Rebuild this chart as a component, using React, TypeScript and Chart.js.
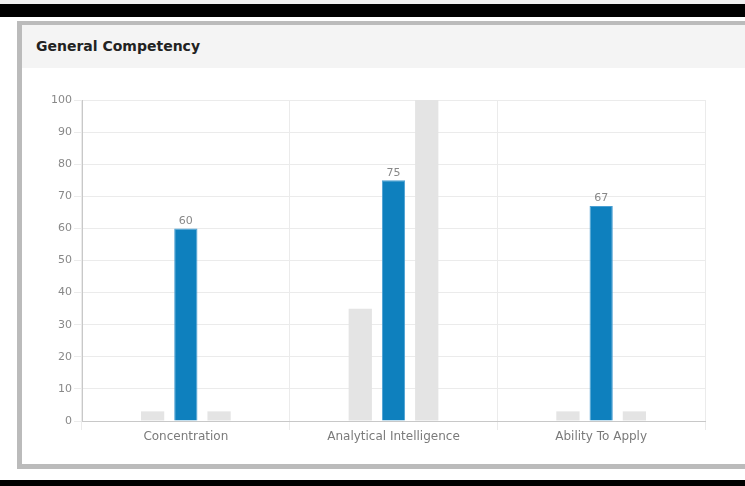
import React, { useEffect, useRef } from "react";
import { Chart, registerables } from "chart.js";

Chart.register(...registerables);

const categories = ["Concentration", "Analytical Intelligence", "Ability To Apply"];
const lowerBand = [3, 35, 3];
const scores = [60, 75, 67];
const upperBand = [3, 100, 3];
const yTicks = [0, 10, 20, 30, 40, 50, 60, 70, 80, 90, 100];

const FONT = "'DejaVu Sans', sans-serif";

const scoreLabels = {
  id: "scoreLabels",
  afterDatasetsDraw(chart: any) {
    const { ctx } = chart;
    const meta = chart.getDatasetMeta(1);
    ctx.save();
    ctx.font = `11px ${FONT}`;
    ctx.fillStyle = "#888888";
    ctx.textAlign = "center";
    ctx.textBaseline = "bottom";
    meta.data.forEach((bar: any, i: number) => {
      ctx.fillText(String(scores[i]), bar.x, bar.y - 2);
    });
    ctx.restore();
  },
};

function CompetencyChart() {
  const ref = useRef<HTMLCanvasElement | null>(null);

  useEffect(() => {
    if (!ref.current) return;
    const chart = new Chart(ref.current, {
      type: "bar",
      data: {
        labels: categories,
        datasets: [
          { data: lowerBand, backgroundColor: "#e4e4e4", borderWidth: 0 },
          { data: scores, backgroundColor: "#0e80be", borderColor: "#4a9fd3", borderWidth: 1 },
          { data: upperBand, backgroundColor: "#e4e4e4", borderWidth: 0 },
        ],
      },
      options: {
        animation: false,
        responsive: false,
        maintainAspectRatio: false,
        datasets: { bar: { categoryPercentage: 0.48, barPercentage: 0.7 } },
        layout: { padding: { top: 32, right: 40, bottom: 13, left: 0 } },
        plugins: { legend: { display: false }, tooltip: { enabled: false } },
        scales: {
          x: {
            grid: { color: "#ebebeb", tickLength: 9, offset: true },
            border: { color: "#c8c8c8" },
            ticks: { color: "#7a7a7a", font: { family: FONT, size: 12 }, padding: 0 },
            afterFit: (s: any) => {
              s.height = 30;
            },
          },
          y: {
            min: 0,
            max: 100,
            afterBuildTicks: (s: any) => {
              s.ticks = yTicks.map((v) => ({ value: v }));
            },
            grid: { color: "#ebebeb", tickLength: 8 },
            border: { color: "#c8c8c8" },
            ticks: { color: "#888888", font: { family: FONT, size: 11 }, padding: 2 },
            afterFit: (s: any) => {
              s.width = 60;
            },
          },
        },
      },
      plugins: [scoreLabels],
    });
    return () => chart.destroy();
  }, []);

  return (
    <canvas
      ref={ref}
      width={723}
      height={396}
      style={{ position: "absolute", left: 22, top: 68, width: 723, height: 396 }}
    />
  );
}

export default function App() {
  return (
    <div
      style={{
        position: "fixed",
        left: 0,
        top: 0,
        width: 745,
        height: 486,
        overflow: "hidden",
        background: "#ffffff",
        fontFamily: FONT,
      }}
    >
      <div style={{ position: "absolute", left: 0, top: 0, width: 745, height: 4, background: "#f0f0f0" }} />
      <div style={{ position: "absolute", left: 0, top: 4, width: 745, height: 13, background: "#000" }} />
      <div
        style={{
          position: "absolute",
          left: 17,
          top: 21,
          width: 760,
          height: 448,
          boxSizing: "border-box",
          borderLeft: "5px solid #bbbbbb",
          borderTop: "4px solid #bbbbbb",
          borderBottom: "5px solid #bbbbbb",
          background: "#ffffff",
        }}
      >
        <div
          style={{
            position: "absolute",
            left: 0,
            top: 0,
            right: 0,
            height: 43,
            background: "#f4f4f4",
          }}
        >
          <div
            style={{
              position: "absolute",
              left: 14,
              top: 14,
              fontSize: 14,
              fontWeight: "bold",
              color: "#222",
              lineHeight: "15px",
              whiteSpace: "nowrap",
            }}
          >
            General Competency
          </div>
        </div>
      </div>
      <CompetencyChart />
      <div style={{ position: "absolute", left: 0, top: 480, width: 745, height: 6, background: "#000" }} />
    </div>
  );
}
